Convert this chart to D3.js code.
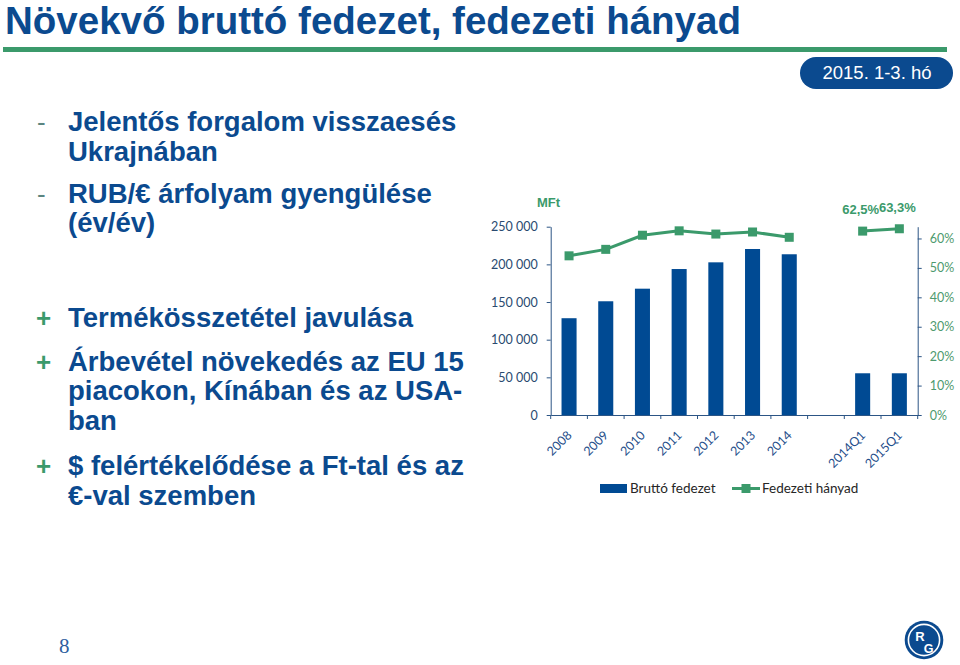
<!DOCTYPE html>
<html>
<head>
<meta charset="utf-8">
<script src="https://cdn.jsdelivr.net/npm/d3@7/dist/d3.min.js"></script>
<style>
  html, body { margin: 0; padding: 0; background: #fff; }
  svg { display: block; }
</style>
</head>
<body>
<svg id="c" width="960" height="665"></svg>
<script>
// ---- data ----
const categories = ["2008", "2009", "2010", "2011", "2012", "2013", "2014", " ", "2014Q1", "2015Q1"];
const grossMargin = [128500, 151000, 167700, 193800, 202700, 220400, 213400, null, 55400, 55400];
const marginRatio = [0.541, 0.563, 0.611, 0.626, 0.615, 0.622, 0.604, null, 0.625, 0.633];
const ratioLabels = [null, null, null, null, null, null, null, null, "62,5%", "63,3%"];
const leftTicks = [0, 50000, 100000, 150000, 200000, 250000];
const rightTicks = [0, 0.1, 0.2, 0.3, 0.4, 0.5, 0.6];
const seriesNames = ["Bruttó fedezet", "Fedezeti hányad"];
const titleText = "Növekvő bruttó fedezet, fedezeti hányad";
const badgeText = "2015. 1-3. hó";
const unitLabel = "MFt";
const bullets = [
  { mark: "-", lines: ["Jelentős forgalom visszaesés", "Ukrajnában"] },
  { mark: "-", lines: ["RUB/€ árfolyam gyengülése", "(év/év)"] },
  { mark: "+", lines: ["Termékösszetétel javulása"] },
  { mark: "+", lines: ["Árbevétel növekedés az EU 15", "piacokon, Kínában és az USA-", "ban"] },
  { mark: "+", lines: ["$ felértékelődése a Ft-tal és az", "€-val szemben"] }
];
const pageNumber = "8";

// ---- style ----
const BLUE = "#0b4a8f";
const BAR = "#004a93";
const GREEN = "#3b9a6b";
const AXIS = "#2c5585";
const TICKTXT = "#2a4a70";
const RTICKTXT = "#4e9a6e";

const svg = d3.select("#c");

// Title
svg.append("text").attr("x", 5).attr("y", 34)
  .attr("font-family", "'Liberation Sans Narrow', 'Arial Narrow', 'Liberation Sans', sans-serif")
  .attr("font-stretch", "condensed")
  .attr("font-weight", "bold").attr("font-size", 38.5).attr("fill", BLUE)
  .text(titleText);
svg.append("rect").attr("x", 3).attr("y", 47).attr("width", 944).attr("height", 5).attr("fill", "#3b9a6b");

// Badge
svg.append("rect").attr("x", 800).attr("y", 57).attr("width", 153).attr("height", 32).attr("rx", 16).attr("fill", BLUE);
svg.append("text").attr("x", 877).attr("y", 79).attr("text-anchor", "middle")
  .attr("font-family", "'Liberation Sans', Arial, sans-serif").attr("font-size", 18.5).attr("fill", "#fff")
  .text(badgeText);

// Bullets
const baselines = [[131, 161], [203, 232], [327], [371, 400, 430], [475, 505]];
bullets.forEach((b, i) => {
  const ys = baselines[i];
  svg.append("text").attr("x", b.mark === "+" ? 36 : 37).attr("y", ys[0])
    .attr("font-family", "'Liberation Sans', Arial, sans-serif")
    .attr("font-weight", b.mark === "+" ? "bold" : "normal")
    .attr("font-size", 26).attr("fill", b.mark === "+" ? GREEN : "#5b8580")
    .text(b.mark);
  b.lines.forEach((ln, j) => {
    svg.append("text").attr("x", 68).attr("y", ys[j])
      .attr("font-family", "'Liberation Sans', Arial, sans-serif")
      .attr("font-weight", "bold").attr("font-size", 27.5).attr("fill", BLUE)
      .text(ln);
  });
});

// Page number
svg.append("text").attr("x", 59).attr("y", 653)
  .attr("font-family", "'Liberation Serif', 'Times New Roman', serif").attr("font-size", 21).attr("fill", "#2f5f9f")
  .text(pageNumber);

// Logo
const lg = svg.append("g").attr("transform", "translate(924,640)");
lg.append("circle").attr("r", 19.3).attr("fill", BLUE);
lg.append("circle").attr("r", 15.6).attr("fill", "none").attr("stroke", "#fff").attr("stroke-width", 1.6);
lg.append("text").attr("x", -4).attr("y", 1).attr("text-anchor", "middle")
  .attr("font-family", "'Liberation Sans', Arial, sans-serif").attr("font-weight", "bold").attr("font-size", 13).attr("fill", "#fff").text("R");
lg.append("text").attr("x", 4.5).attr("y", 12.5).attr("text-anchor", "middle")
  .attr("font-family", "'Liberation Sans', Arial, sans-serif").attr("font-weight", "bold").attr("font-size", 12.5).attr("fill", "#fff").text("G");

// ---- chart ----
const x0 = 550.7, x1 = 917.7, yTop = 226.7, yBot = 415;
const x = d3.scaleBand().domain(categories).range([x0, x1]).paddingInner(0.59).paddingOuter(0.295);
const xc = d3.scaleBand().domain(categories).range([x0, x1]).padding(0);
const y = d3.scaleLinear().domain([0, 250000]).range([yBot, yTop]);
const y2 = d3.scaleLinear().domain([0, 0.64]).range([yBot, yTop]);

const data = categories.map((c, i) => ({ c, v: grossMargin[i], r: marginRatio[i], lab: ratioLabels[i] }));

// bars
svg.append("g").selectAll("rect").data(data.filter(d => d.v != null)).join("rect")
  .attr("x", d => x(d.c)).attr("width", x.bandwidth())
  .attr("y", d => y(d.v)).attr("height", d => y(0) - y(d.v))
  .attr("fill", BAR);

// left axis
const fmt = d => d3.format(",")(d).replace(/,/g, " ");
const gl = svg.append("g").attr("transform", `translate(${x0},0)`)
  .call(d3.axisLeft(y).tickValues(leftTicks).tickSize(4).tickPadding(9).tickSizeOuter(0).tickFormat(fmt));
gl.select(".domain").attr("stroke", AXIS);
gl.selectAll(".tick line").attr("stroke", AXIS);
gl.selectAll("text").attr("font-family", "Lato, 'Open Sans', sans-serif").attr("font-size", 12.5).attr("fill", TICKTXT);

// right axis
const gr = svg.append("g").attr("transform", `translate(${x1},0)`)
  .call(d3.axisRight(y2).tickValues(rightTicks).tickSize(4).tickPadding(8).tickSizeOuter(0).tickFormat(d3.format(".0%")));
gr.select(".domain").attr("stroke", AXIS);
gr.selectAll(".tick line").attr("stroke", AXIS);
gr.selectAll("text").attr("font-family", "Lato, 'Open Sans', sans-serif").attr("font-size", 12.5).attr("fill", RTICKTXT);

// bottom axis
const gb = svg.append("g").attr("transform", `translate(0,${yBot})`)
  .call(d3.axisBottom(xc).tickSize(0).tickSizeOuter(0));
gb.select(".domain").attr("stroke", AXIS);
gb.selectAll("text").attr("y", 0).attr("dy", 0)
  .attr("transform", "translate(3.5,21) rotate(-45)").attr("text-anchor", "end")
  .attr("font-family", "Lato, 'Open Sans', sans-serif").attr("font-size", 12.5).attr("fill", "#1f4e8a");
// category boundary ticks
const bounds = categories.map(c => xc(c)).concat([xc(categories[categories.length - 1]) + xc.bandwidth()]);
svg.append("g").selectAll("line").data(bounds).join("line")
  .attr("x1", d => d).attr("x2", d => d).attr("y1", yBot).attr("y2", yBot + 4)
  .attr("stroke", AXIS);

// line
const line = d3.line().defined(d => d.r != null)
  .x(d => xc(d.c) + xc.bandwidth() / 2).y(d => y2(d.r));
svg.append("path").datum(data).attr("d", line)
  .attr("fill", "none").attr("stroke", GREEN).attr("stroke-width", 3).attr("stroke-linejoin", "round");
svg.append("g").selectAll("rect").data(data.filter(d => d.r != null)).join("rect")
  .attr("x", d => xc(d.c) + xc.bandwidth() / 2 - 4.5).attr("y", d => y2(d.r) - 4.5)
  .attr("width", 9).attr("height", 9).attr("fill", GREEN);

// data labels
svg.append("g").selectAll("text").data(data.filter(d => d.lab)).join("text")
  .attr("x", d => xc(d.c) + xc.bandwidth() / 2 - 2).attr("y", d => y2(d.r) - 17)
  .attr("text-anchor", "middle")
  .attr("font-family", "'Liberation Sans', Arial, sans-serif").attr("font-weight", "bold")
  .attr("font-size", 13).attr("fill", GREEN).text(d => d.lab);

// unit
svg.append("text").attr("x", 537).attr("y", 207)
  .attr("font-family", "'Liberation Sans', Arial, sans-serif").attr("font-weight", "bold")
  .attr("font-size", 13).attr("fill", GREEN).text(unitLabel);

// legend
const leg = svg.append("g").attr("font-family", "Lato, 'Open Sans', sans-serif").attr("font-size", 13.5).attr("fill", "#262626");
leg.append("rect").attr("x", 600).attr("y", 484).attr("width", 27).attr("height", 9).attr("fill", BAR);
leg.append("text").attr("x", 630).attr("y", 492.5).text(seriesNames[0]);
leg.append("line").attr("x1", 732).attr("x2", 760).attr("y1", 488.5).attr("y2", 488.5).attr("stroke", GREEN).attr("stroke-width", 3);
leg.append("rect").attr("x", 741.5).attr("y", 484).attr("width", 9).attr("height", 9).attr("fill", GREEN);
leg.append("text").attr("x", 762).attr("y", 492.5).text(seriesNames[1]);
</script>
</body>
</html>
